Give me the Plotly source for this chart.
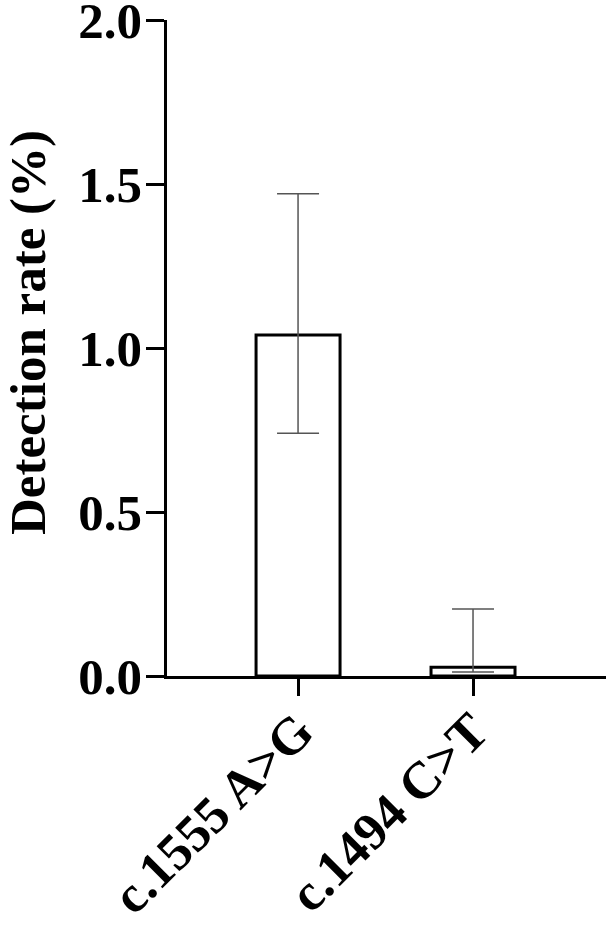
import plotly.graph_objects as go

categories = ["c.1555 A>G", "c.1494 C>T"]
means = [1.04, 0.027]
upper = [1.47, 0.204]
lower = [0.74, 0.012]
y_ticks = [0.0, 0.5, 1.0, 1.5, 2.0]
y_tick_labels = ["0.0", "0.5", "1.0", "1.5", "2.0"]

plus = [u - m for u, m in zip(upper, means)]
minus = [m - l for m, l in zip(means, lower)]

FONT = "Liberation Serif"

fig = go.Figure()
fig.add_trace(go.Bar(
    x=categories, y=means, width=0.48,
    marker=dict(color="white", line=dict(color="black", width=3)),
    error_y=dict(type="data", symmetric=False, array=plus, arrayminus=minus,
                 color="#555555", thickness=1.5, width=21),
))

fig.update_layout(
    width=611, height=933,
    margin=dict(l=167, r=5, t=20, b=257, autoexpand=False),
    paper_bgcolor="white", plot_bgcolor="white",
    showlegend=False,
    font=dict(family=FONT, color="black"),
    xaxis=dict(
        range=[-0.749, 1.76], showline=True, linecolor="black", linewidth=2.5,
        ticks="outside", ticklen=17, tickwidth=2.5, tickcolor="black",
        tickangle=-45, showgrid=False, zeroline=False, ticklabeloverflow="allow",
        automargin=False, ticklabelstandoff=-16,
        tickfont=dict(family=FONT, size=52, color="black", weight="bold"),
    ),
    yaxis=dict(
        range=[0, 2.0], showline=True, linecolor="black", linewidth=2.5,
        ticks="outside", ticklen=18, tickwidth=2.5, tickcolor="black",
        tickvals=y_ticks, ticktext=y_tick_labels, showgrid=False, zeroline=False,
        ticklabelstandoff=-6, ticklabeloverflow="allow", automargin=False,
        tickfont=dict(family=FONT, size=51, color="black", weight="bold"),
    ),
    annotations=[dict(
        text="Detection rate (%)", xref="paper", yref="paper",
        x=-0.315, y=0.524, xanchor="center", yanchor="middle", textangle=-90,
        showarrow=False, font=dict(family=FONT, size=51, color="black", weight="bold"),
    )],
)

fig.write_html("out.html")
